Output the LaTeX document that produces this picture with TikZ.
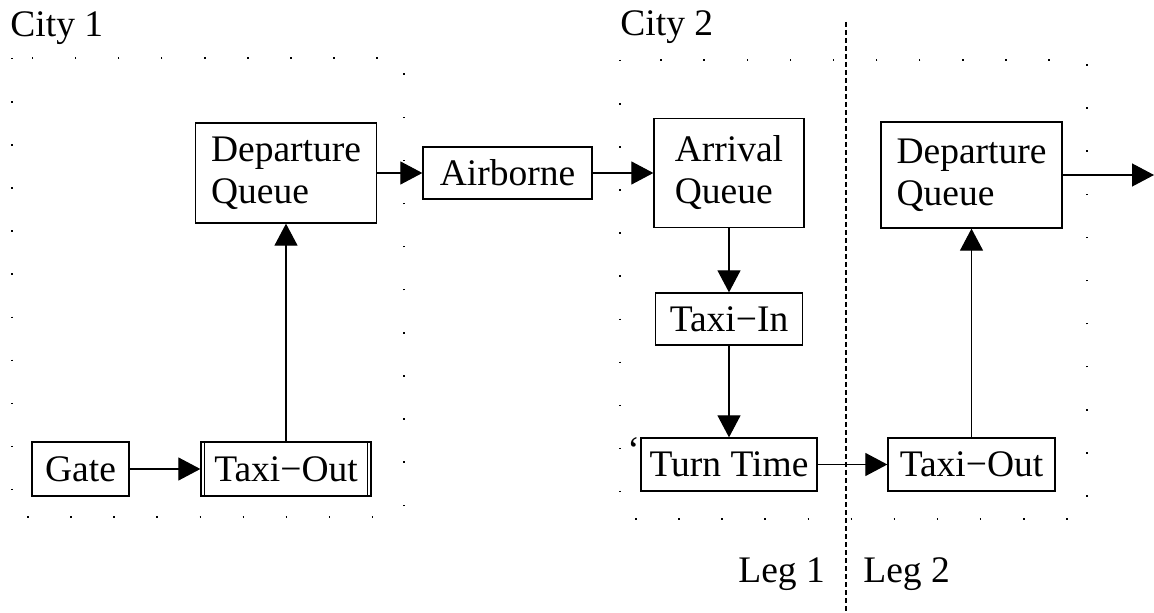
\documentclass[tikz,border=0pt]{standalone}
\usepackage{fontspec}
\setmainfont{Liberation Serif}
\usetikzlibrary{arrows.meta}

\tikzset{
  stagebox/.style={draw, line width=0.65pt, inner sep=0pt, align=left},
  flow/.style={line width=0.6pt, -{Triangle[length=11pt,width=11.5pt]}},
  cityline/.style={line width=0.75pt, dash pattern=on 0.75pt off 20.8pt},
  legline/.style={line width=0.6pt, dash pattern=on 2.5pt off 1.5pt},
  plain/.style={anchor=base west, inner sep=0pt}
}

\begin{document}
\begin{tikzpicture}[x=0.5pt, y=-0.5pt, font=\fontsize{18.75pt}{21pt}\selectfont]
        \useasboundingbox (0,0) rectangle (1154,613);

        % City areas
        \draw[cityline] (12,58) rectangle (404,517);
        \draw[cityline] (620,60) rectangle (1087,519);
        \node[plain] (city1) at (10,37) {City 1};
        \node[plain] (city2) at (620,36) {City 2};

        % Leg border
        \coordinate (legtop) at (846,22);
        \coordinate (legbot) at (846,613);
        \draw[legline] (legtop) -- (legbot);
        \node[plain] (leg1) at (738,582) {Leg 1};
        \node[plain] (leg2) at (863,582) {Leg 2};

        % City 1
        \node[stagebox, minimum width=85pt, minimum height=27pt]
          (taxiout1) at (286,469) {Taxi−Out};
        \draw[line width=0.65pt]
          ([xshift=2pt]taxiout1.north west) -- ([xshift=2pt]taxiout1.south west)
          ([xshift=-2pt]taxiout1.north east) -- ([xshift=-2pt]taxiout1.south east);
        \node[stagebox, minimum width=48.5pt, minimum height=27pt]
          (gate) at (80.5,469) {Gate};
        \node[stagebox, minimum width=90.5pt, minimum height=50pt]
          (depq1) at (286,173) {Departure\\Queue};

        % In the air
        \node[stagebox, minimum width=84.5pt, minimum height=26pt]
          (air) at (507.5,173) {Airborne};

        % City 2
        \node[stagebox, minimum width=75pt, minimum height=54.5pt]
          (arrq) at (729,173) {Arrival\\Queue};
        \node[stagebox, minimum width=73.5pt, minimum height=26pt]
          (taxiin) at (729,319) {Taxi−In};
        \node[stagebox, minimum width=88pt, minimum height=26.5pt]
          (turn) at (729,464.5) {Turn Time};
        \node[plain] (tick) at (627,463) {‘};
        \node[stagebox, minimum width=83.5pt, minimum height=26.5pt]
          (taxiout2) at (971.5,464.5) {Taxi−Out};
        \node[stagebox, minimum width=90.5pt, minimum height=53pt]
          (depq2) at (971.5,175) {Departure\\Queue};
        \coordinate (onward) at (1154,175);

        % Flow
        \draw[flow] (gate) -- (taxiout1);
        \draw[flow] (taxiout1) -- (depq1);
        \draw[flow] (depq1) -- (air);
        \draw[flow] (air) -- (arrq);
        \draw[flow] (arrq) -- (taxiin);
        \draw[flow] (taxiin) -- (turn);
        \draw[flow] (turn) -- (taxiout2);
        \draw[flow] (taxiout2) -- (depq2);
        \draw[flow] (depq2) -- (onward);
    \end{tikzpicture}
\end{document}
